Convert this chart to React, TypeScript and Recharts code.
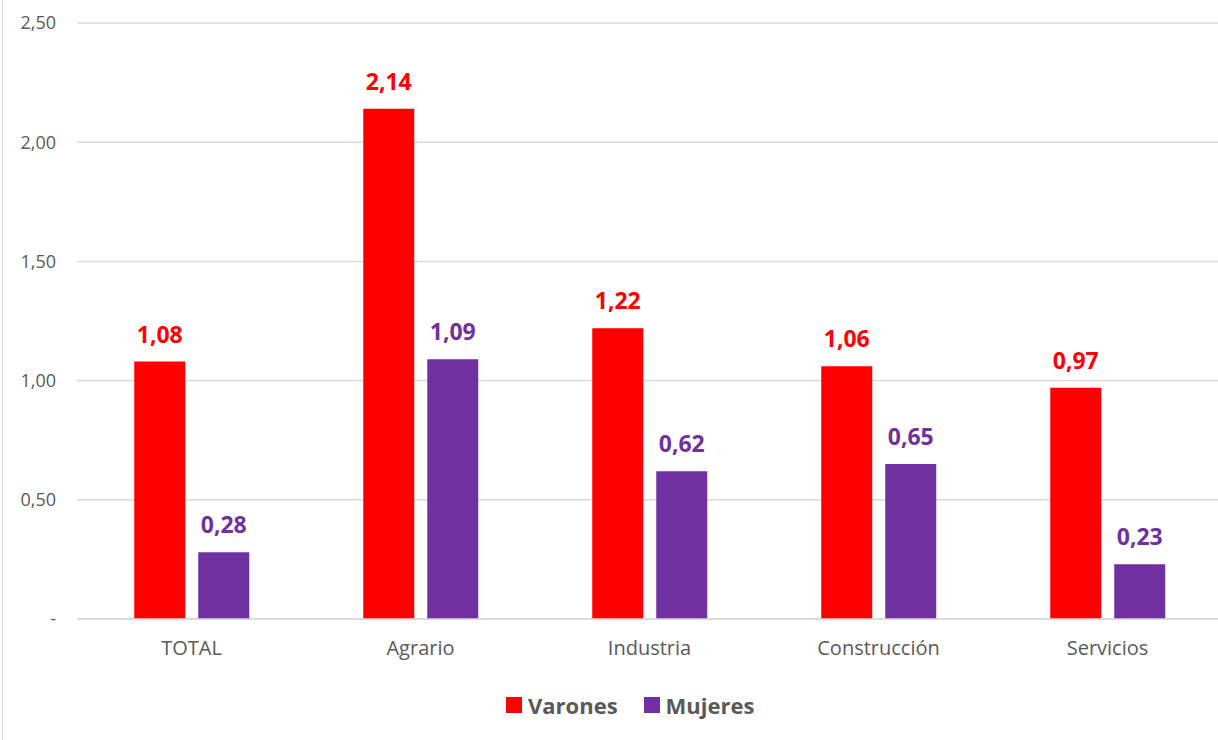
import React from "react";
import { BarChart, Bar, XAxis, YAxis, CartesianGrid, Legend, LabelList } from "recharts";

const categories = ["TOTAL", "Agrario", "Industria", "Construcción", "Servicios"];
const varones = [1.08, 2.14, 1.22, 1.06, 0.97];
const mujeres = [0.28, 1.09, 0.62, 0.65, 0.23];
const yTicks = [0, 0.5, 1, 1.5, 2, 2.5];

const seriesOrder = ["Varones", "Mujeres"];
const colors = { varones: "#FF0000", mujeres: "#7030A0" };

const data = categories.map((c, i) => ({ name: c, varones: varones[i], mujeres: mujeres[i] }));

const fmt = (v: number) => (v === 0 ? "-" : v.toFixed(2).replace(".", ","));
const FONT = "'Open Sans', sans-serif";

const LegendContent = (props: any) => {
  const payload = [...(props.payload || [])].sort(
    (a: any, b: any) => seriesOrder.indexOf(a.value) - seriesOrder.indexOf(b.value)
  );
  return (
    <div style={{ height: 40, display: "flex", alignItems: "center", paddingLeft: 506, fontFamily: FONT }}>
      {payload.map((p: any, i: number) => (
        <div key={i} style={{ display: "flex", alignItems: "center", marginRight: 26 }}>
          <div style={{ width: 16, height: 16, background: p.color, marginRight: 6 }} />
          <span style={{ fontSize: 22, fontWeight: 700, color: "#595959" }}>{p.value}</span>
        </div>
      ))}
    </div>
  );
};

export default function App() {
  return (
    <div style={{ position: "absolute", left: 0, top: 0, width: 1218, height: 740, overflow: "hidden", background: "#fff" }}>
      <div style={{ position: "absolute", left: 2, top: 0, width: 1, height: 740, background: "#d9d9d9" }} />
      <BarChart
        width={1222}
        height={740}
        data={data}
        margin={{ top: 23, right: 0, left: 0, bottom: 15 }}
        barCategoryGap="25%"
        barGap={13}
        style={{ fontFamily: FONT }}
      >
        <CartesianGrid vertical={false} stroke="#d9d9d9" strokeWidth={1.5} />
        <XAxis
          dataKey="name"
          height={66}
          tickSize={0}
          tickMargin={22}
          axisLine={{ stroke: "#d9d9d9", strokeWidth: 1.5 }}
          tick={{ fill: "#595959", fontSize: 20, fontFamily: FONT }}
        />
        <YAxis
          width={77}
          domain={[0, 2.5]}
          ticks={yTicks}
          tickFormatter={fmt}
          tickSize={0}
          tickMargin={21}
          axisLine={false}
          tick={{ fill: "#595959", fontSize: 18, fontFamily: FONT }}
        />
        <Legend verticalAlign="bottom" content={<LegendContent />} />
        <Bar dataKey="varones" name={seriesOrder[0]} fill={colors.varones} isAnimationActive={false}>
          <LabelList
            dataKey="varones"
            position="top"
            offset={19}
            formatter={(v: any) => fmt(Number(v))}
            style={{ fill: colors.varones, fontSize: 23, fontWeight: 700, fontFamily: FONT }}
          />
        </Bar>
        <Bar dataKey="mujeres" name={seriesOrder[1]} fill={colors.mujeres} isAnimationActive={false}>
          <LabelList
            dataKey="mujeres"
            position="top"
            offset={19}
            formatter={(v: any) => fmt(Number(v))}
            style={{ fill: colors.mujeres, fontSize: 23, fontWeight: 700, fontFamily: FONT }}
          />
        </Bar>
      </BarChart>
    </div>
  );
}
